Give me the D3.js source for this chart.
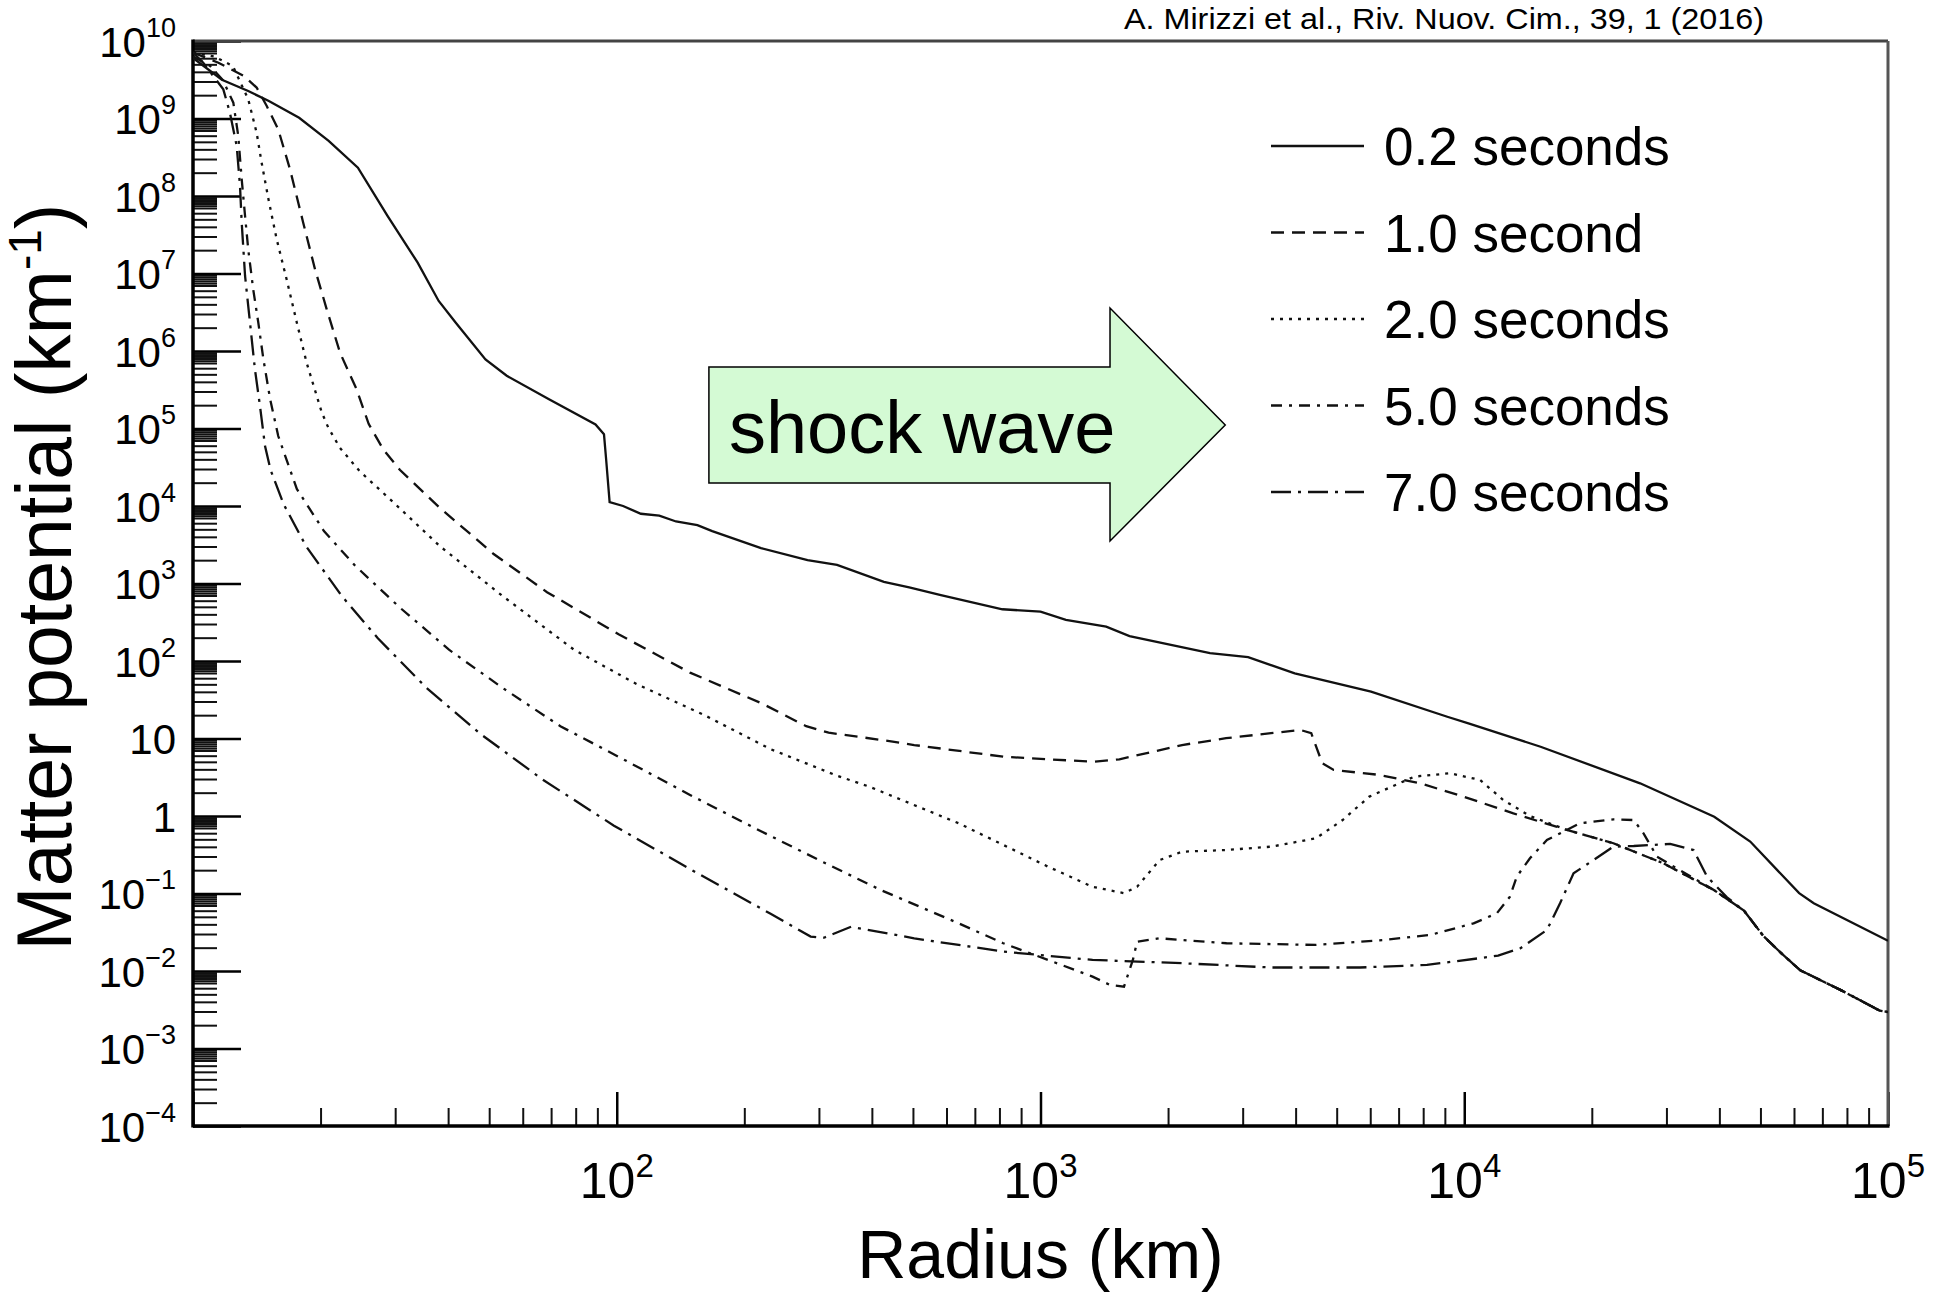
<!DOCTYPE html>
<html>
<head>
<meta charset="utf-8">
<script src="https://cdnjs.cloudflare.com/ajax/libs/d3/7.8.5/d3.min.js"></script>
<style>
body { margin: 0; background: #fff; }
text { font-family: "Liberation Sans", Arial, Helvetica, sans-serif; fill: #000; }
</style>
</head>
<body>
<div id="chart"></div>
<script>
// radius in km, matter potential in km^-1
var radius02 = [10, 11.7, 13.5, 15.1, 17.8, 20.9, 24.5, 28.8, 33.9, 38.0, 41.7, 49.0, 55.0, 69.2, 89.1, 93.3, 94.4, 96.2, 103.5, 114, 126, 138, 155, 168, 219, 282, 331, 427, 490, 582, 813, 1000, 1148, 1429, 1622, 2512, 3090, 3981, 6026, 9120, 10230, 15140, 26000, 38900, 47300, 61700, 66800, 100000];
var potential02 = [6.03e9, 3.16e9, 2.26e9, 1.68e9, 1.02e9, 5.13e8, 2.32e8, 5.5e7, 1.38e7, 4.42e6, 2.32e6, 7.76e5, 4.79e5, 2.38e5, 1.13e5, 8.41e4, 3.98e4, 1.12e4, 1.0e4, 7940, 7500, 6310, 5650, 4750, 2860, 2000, 1740, 1050, 891, 708, 465, 433, 339, 277, 210, 126, 112, 69.2, 40.2, 19.1, 15.7, 7.83, 2.64, 0.98, 0.468, 0.101, 0.0748, 0.0245];

var radius1 = [10, 11.48, 13.18, 14.13, 14.93, 15.89, 16.94, 18.2, 19.41, 20.68, 22.23, 24.32, 25.97, 28.12, 30.76, 38.28, 51.23, 68.47, 101, 148.9, 219.6, 279.9, 316.2, 422.7, 503.5, 816.6, 1327, 1535, 2158, 2742, 3499, 4102, 4355, 4624, 4920, 6310, 7870, 9954, 13060, 17460, 22490, 29510, 38900, 45710, 50820, 56230, 62090, 77620, 95500, 100000];
var potential1 = [7.08e9, 5.25e9, 3.55e9, 2.51e9, 1.45e9, 7.24e8, 2.21e8, 4.53e7, 1.13e7, 3.45e6, 9.51e5, 3.21e5, 1.15e5, 5.37e4, 2.93e4, 9420, 2400, 773, 221, 70.8, 28.5, 14.4, 11.9, 9.55, 8.24, 5.82, 5.01, 5.38, 8.24, 10.1, 11.7, 12.9, 11.7, 4.79, 3.93, 3.39, 2.64, 1.78, 1.08, 0.661, 0.445, 0.245, 0.110, 0.0603, 0.0282, 0.0166, 0.0102, 0.00562, 0.00309, 0.00295];

var radius2 = [10, 11.22, 12.42, 13.5, 14.13, 14.52, 15.07, 15.76, 16.63, 17.58, 18.54, 20.14, 20.87, 22.23, 24.72, 30.06, 38.28, 53.77, 79.25, 111.3, 160.2, 230.7, 331.1, 394.5, 641.2, 1042, 1327, 1574, 1690, 1910, 2158, 2742, 3499, 4467, 5164, 5970, 7621, 9247, 10890, 12360, 14290, 17460, 22490, 29510, 38900, 45710, 50820, 56230, 62090, 77620, 95500, 100000];
var potential2 = [7.08e9, 6.31e9, 4.75e9, 1.77e9, 6.56e8, 2.69e8, 9.06e7, 2.75e7, 8.41e6, 2.32e6, 7.06e5, 1.6e5, 1.02e5, 5.62e4, 2.82e4, 1.05e4, 3020, 690, 140, 50.5, 20.3, 7.29, 3.31, 2.39, 0.805, 0.222, 0.122, 0.101, 0.122, 0.27, 0.346, 0.364, 0.402, 0.515, 0.887, 1.78, 3.22, 3.56, 2.92, 1.61, 1.0, 0.661, 0.445, 0.245, 0.110, 0.0603, 0.0282, 0.0166, 0.0102, 0.00562, 0.00309, 0.00295];

var radius5 = [10, 10.96, 11.75, 12.45, 12.79, 13.03, 13.27, 13.5, 13.87, 14.26, 14.66, 15.21, 15.89, 17.58, 20.37, 24.1, 30.76, 40.18, 53.77, 73.62, 101, 148.9, 219.6, 308.3, 422.7, 641.2, 816.6, 1042, 1327, 1459, 1574, 1652, 1690, 1910, 2748, 4467, 6427, 8318, 10520, 11940, 12820, 13300, 14290, 15670, 18750, 22490, 25120, 26490, 28510, 38900, 45710, 50820, 56230, 62090, 77620, 95500, 100000];
var potential5 = [6.31e9, 4.79e9, 3.16e9, 1.6e9, 5.94e8, 1.64e8, 5.52e7, 2.05e7, 6.25e6, 2.32e6, 7.82e5, 2.38e5, 8.0e4, 1.66e4, 4750, 1710, 490, 140, 45, 14.4, 5.81, 1.87, 0.631, 0.251, 0.109, 0.0412, 0.0228, 0.0139, 0.00845, 0.00661, 0.00627, 0.0139, 0.0239, 0.0264, 0.0228, 0.0217, 0.0251, 0.0292, 0.0412, 0.0556, 0.0912, 0.165, 0.285, 0.49, 0.805, 0.906, 0.887, 0.597, 0.298, 0.11, 0.0603, 0.0282, 0.0166, 0.0102, 0.00562, 0.00309, 0.00295];

var radius7 = [10, 10.57, 11.79, 12.22, 12.68, 12.91, 13.03, 13.27, 13.63, 14.0, 14.39, 14.79, 15.24, 16.37, 18.49, 22.44, 27.27, 35.56, 47.64, 66.92, 98.5, 152.8, 230.7, 286.8, 308.3, 357.3, 503.5, 816.6, 1327, 2158, 3499, 5675, 8166, 10720, 12020, 13550, 15670, 16830, 18110, 20180, 22490, 25120, 30620, 34750, 37410, 41690, 45710, 50820, 56230, 62090, 77620, 95500, 100000];
var potential7 = [7.08e9, 5.25e9, 2.38e9, 1.19e9, 4.42e8, 1.35e8, 4.53e7, 9.29e6, 2.32e6, 5.81e5, 1.95e5, 5.94e4, 2.93e4, 1.05e4, 3020, 690, 198, 45, 11.5, 2.94, 0.75, 0.191, 0.0548, 0.0278, 0.0269, 0.0372, 0.0264, 0.0178, 0.0139, 0.0126, 0.0111, 0.0111, 0.012, 0.0145, 0.0158, 0.0196, 0.0338, 0.0748, 0.182, 0.27, 0.402, 0.41, 0.436, 0.364, 0.165, 0.0891, 0.0603, 0.0282, 0.0166, 0.0102, 0.00562, 0.00309, 0.00295];

var seriesLabels = ["0.2 seconds", "1.0 second", "2.0 seconds", "5.0 seconds", "7.0 seconds"];
var xMajorTicks = [10, 100, 1000, 10000, 100000];
var xLabelTicks = [100, 1000, 10000, 100000];
var yMajorTicks = [1e-4, 1e-3, 1e-2, 1e-1, 1, 10, 100, 1e3, 1e4, 1e5, 1e6, 1e7, 1e8, 1e9, 1e10];
var minorSteps = [2, 3, 4, 5, 6, 7, 7.5, 8, 8.5, 9, 9.5];
var xMinorSteps = [2, 3, 4, 5, 6, 7, 8, 9];

var citation = "A. Mirizzi et al., Riv. Nuov. Cim.,  39, 1 (2016)";
var arrowText = "shock wave";
// arrow outline in data units (radius, potential)
var arrowRadius = {tail: 165, neck: 1459, tip: 2729};
var arrowPotential = {shaftTop: 6.22e5, shaftBottom: 1.98e4, headTop: 3.59e6, headBottom: 3.53e3, tip: 1.11e5};

var series = [
	{"r": radius02, "v": potential02, "dash": null},
	{"r": radius1, "v": potential1, "dash": "13,8"},
	{"r": radius2, "v": potential2, "dash": "3,6"},
	{"r": radius5, "v": potential5, "dash": "11,7,3,7"},
	{"r": radius7, "v": potential7, "dash": "20,7,3,7"}
];

var settings = {
	"size": {"width": 1946, "height": 1300},
	"plot": {"left": 193, "right": 1888, "top": 41, "bottom": 1126},
	"ticks": {"yMajor": 48, "yMinor": 24, "xMajor": 34, "xMinor": 18}
};
var plot = settings.plot;

var svg = d3.select("#chart")
	.append("svg")
		.attr("width", settings.size.width)
		.attr("height", settings.size.height);

var x = d3.scaleLog().domain([10, 1e5]).range([plot.left, plot.right]);
var y = d3.scaleLog().domain([1e-4, 1e10]).range([plot.bottom, plot.top]);

function minorValues(lo, hi, steps) {
	var out = [];
	for (var e = lo; e < hi; e++) {
		steps.forEach(function(k) { out.push(k * Math.pow(10, e)); });
	}
	return out;
}

// Y axis ticks (pointing inside)
var yMinor = svg.append("g")
	.attr("transform", "translate(" + plot.left + ",0)")
	.call(d3.axisLeft(y).tickValues(minorValues(-4, 10, minorSteps)).tickSize(-settings.ticks.yMinor).tickFormat(""));
yMinor.select(".domain").remove();
yMinor.selectAll(".tick line").attr("stroke", "#111").attr("stroke-width", 2);

var yMajor = svg.append("g")
	.attr("transform", "translate(" + plot.left + ",0)")
	.call(d3.axisLeft(y).tickValues(yMajorTicks).tickSize(-settings.ticks.yMajor).tickFormat(""));
yMajor.select(".domain").remove();
yMajor.selectAll(".tick line").attr("stroke", "#000").attr("stroke-width", 2.5);

function exponentOf(v) { return Math.round(Math.log10(v)); }
function supText(e) { return e < 0 ? "\u2212" + (-e) : "" + e; }

var yLabels = yMajor.selectAll(".tick").append("text")
	.attr("x", -17)
	.attr("y", 15)
	.attr("text-anchor", "end")
	.style("font-size", "42px")
	.attr("fill", "#000");
yLabels.each(function(d) {
	var e = exponentOf(d);
	var t = d3.select(this);
	if (e === 0) { t.text("1"); return; }
	if (e === 1) { t.text("10"); return; }
	t.append("tspan").text("10");
	t.append("tspan").attr("dy", -20).style("font-size", "27px").text(supText(e));
});

// X axis ticks (pointing inside)
var xMinor = svg.append("g")
	.attr("transform", "translate(0," + plot.bottom + ")")
	.call(d3.axisBottom(x).tickValues(minorValues(1, 5, xMinorSteps)).tickSize(-settings.ticks.xMinor).tickFormat(""));
xMinor.select(".domain").remove();
xMinor.selectAll(".tick line").attr("stroke", "#111").attr("stroke-width", 2);

var xMajor = svg.append("g")
	.attr("transform", "translate(0," + plot.bottom + ")")
	.call(d3.axisBottom(x).tickValues(xMajorTicks).tickSize(-settings.ticks.xMajor).tickFormat(""));
xMajor.select(".domain").remove();
xMajor.selectAll(".tick line").attr("stroke", "#000").attr("stroke-width", 2.5);

svg.append("g").selectAll("text")
	.data(xLabelTicks)
	.enter()
	.append("text")
		.attr("x", function(d) { return x(d); })
		.attr("y", plot.bottom + 72)
		.attr("text-anchor", "middle")
		.style("font-size", "50px")
		.each(function(d) {
			var t = d3.select(this);
			t.append("tspan").text("10");
			t.append("tspan").attr("dy", -21).style("font-size", "33px").text(supText(exponentOf(d)));
		});

// frame
svg.append("line").attr("x1", plot.left).attr("x2", plot.right).attr("y1", plot.top).attr("y2", plot.top)
	.attr("stroke", "#444").attr("stroke-width", 3);
svg.append("line").attr("x1", plot.right).attr("x2", plot.right).attr("y1", plot.top).attr("y2", plot.bottom)
	.attr("stroke", "#555").attr("stroke-width", 3);
svg.append("line").attr("x1", plot.left).attr("x2", plot.left).attr("y1", plot.top - 1.5).attr("y2", plot.bottom + 1.5)
	.attr("stroke", "#000").attr("stroke-width", 3.5);
svg.append("line").attr("x1", plot.left).attr("x2", plot.right + 1.5).attr("y1", plot.bottom).attr("y2", plot.bottom)
	.attr("stroke", "#000").attr("stroke-width", 3.5);

// curves
svg.append("clipPath").attr("id", "plotClip")
	.append("rect")
		.attr("x", plot.left).attr("y", plot.top)
		.attr("width", plot.right - plot.left).attr("height", plot.bottom - plot.top);

var line = d3.line()
	.x(function(d) { return x(d[0]); })
	.y(function(d) { return y(d[1]); });

svg.append("g")
	.attr("clip-path", "url(#plotClip)")
	.selectAll(".curve")
	.data(series)
	.enter()
	.append("path")
		.attr("class", "curve")
		.attr("d", function(s) { return line(d3.zip(s.r, s.v)); })
		.attr("fill", "none")
		.attr("stroke", "#111")
		.attr("stroke-width", 2.3)
		.attr("stroke-dasharray", function(s) { return s.dash; });

// shock wave arrow
var arrowPts = [
	[arrowRadius.tail, arrowPotential.shaftTop],
	[arrowRadius.neck, arrowPotential.shaftTop],
	[arrowRadius.neck, arrowPotential.headTop],
	[arrowRadius.tip, arrowPotential.tip],
	[arrowRadius.neck, arrowPotential.headBottom],
	[arrowRadius.neck, arrowPotential.shaftBottom],
	[arrowRadius.tail, arrowPotential.shaftBottom]
];
svg.append("path")
	.attr("d", line(arrowPts) + "Z")
	.attr("fill", "#d4fad4")
	.attr("stroke", "#000")
	.attr("stroke-width", 1.5);
svg.append("text")
	.attr("x", x(arrowRadius.tail) + 20)
	.attr("y", y(arrowPotential.shaftBottom) - 30)
	.style("font-size", "74px")
	.text(arrowText);

// legend
var legend = svg.selectAll(".legend")
	.data(series)
	.enter()
	.append("g")
		.attr("class", "legend")
		.attr("transform", function(d, i) { return "translate(1271," + (146 + i * 86.5) + ")"; });
legend.append("line")
	.attr("x1", 0).attr("x2", 93)
	.attr("stroke", "#111")
	.attr("stroke-width", 2.3)
	.attr("stroke-dasharray", function(s) { return s.dash; });
legend.append("text")
	.attr("x", 113)
	.attr("y", 19)
	.style("font-size", "53px")
	.text(function(d, i) { return seriesLabels[i]; });

// axis titles
svg.append("text")
	.attr("x", (plot.left + plot.right) / 2)
	.attr("y", 1278)
	.attr("text-anchor", "middle")
	.style("font-size", "68px")
	.text("Radius (km)");

var yTitle = svg.append("text")
	.attr("transform", "translate(71,577) rotate(-90)")
	.attr("text-anchor", "middle")
	.style("font-size", "77px");
yTitle.append("tspan").text("Matter potential (km");
yTitle.append("tspan").attr("dy", -30).style("font-size", "46px").text("-1");
yTitle.append("tspan").attr("dy", 30).text(")");

// citation
svg.append("text")
	.attr("x", 1124)
	.attr("y", 29)
	.style("font-size", "30px")
	.attr("textLength", 640)
	.attr("lengthAdjust", "spacingAndGlyphs")
	.text(citation);
</script>
</body>
</html>
